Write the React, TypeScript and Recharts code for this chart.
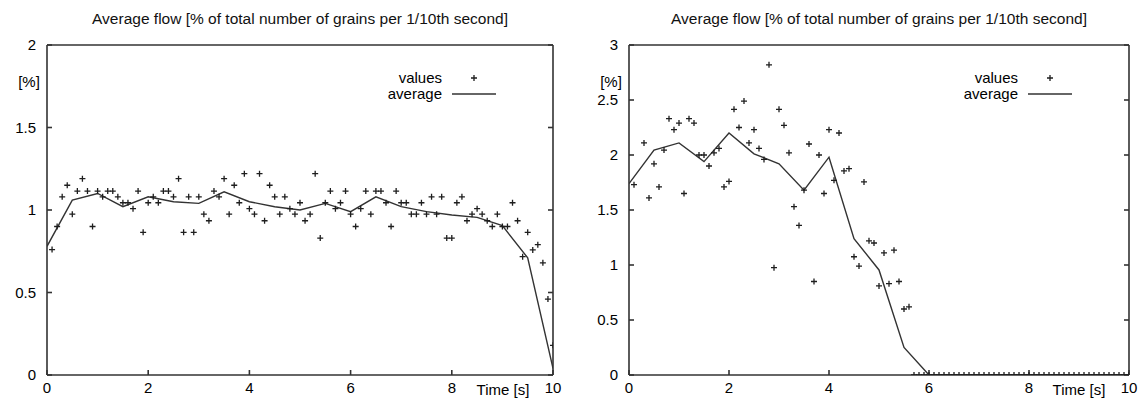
import React from 'react';
import { ComposedChart, Scatter, Line, XAxis, YAxis } from 'recharts';

// samples every 0.1 s, starting at t = 0.1
const leftValues = [
  0.76, 0.9, 1.08, 1.15, 0.975, 1.115, 1.19, 1.115, 0.9, 1.115,
  1.08, 1.115, 1.115, 1.08, 1.044, 1.044, 1.008, 1.115, 0.865, 1.044,
  1.08, 1.044, 1.115, 1.115, 1.08, 1.19, 0.865, 1.08, 0.865, 1.08,
  0.975, 0.935, 1.115, 1.08, 1.19, 0.975, 1.15, 1.044, 1.22, 1.008,
  0.975, 1.22, 0.935, 1.15, 1.08, 0.975, 1.08, 1.008, 0.975, 1.044,
  0.935, 0.975, 1.22, 0.83, 1.044, 1.115, 1.008, 1.044, 1.115, 0.975,
  0.9, 1.008, 1.115, 0.975, 1.115, 1.115, 1.044, 0.9, 1.115, 1.044,
  1.044, 0.975, 0.975, 1.044, 0.975, 1.08, 0.975, 1.08, 0.83, 0.83,
  1.044, 1.08, 0.935, 0.975, 1.008, 0.975, 0.935, 0.9, 0.975, 0.9,
  0.9, 1.044, 0.935, 0.717, 0.865, 0.758, 0.79, 0.68, 0.46, 0.18,
];

// averages every 0.5 s, starting at t = 0
const leftAverage = [
  0.78, 1.06, 1.1, 1.02, 1.08, 1.05, 1.04, 1.11, 1.05, 1.02, 1.0,
  1.04, 0.99, 1.08, 1.02, 0.99, 0.97, 0.955, 0.905, 0.71, 0.04,
];

const rightValues = [
  1.73, null, 2.11, 1.61, 1.92, 1.71, 2.045, 2.33, 2.23, 2.29,
  1.65, 2.33, 2.29, 2.0, 2.0, 1.9, 2.02, 2.06, 1.71, 1.76,
  2.415, 2.25, 2.49, 2.11, 2.23, 2.06, 1.96, 2.82, 0.976, 2.415,
  2.27, 2.02, 1.53, 1.36, 1.68, 2.1, 0.85, 2.0, 1.65, 2.23,
  1.77, 2.2, 1.855, 1.876, 1.075, 0.99, 1.755, 1.22, 1.2, 0.81,
  1.11, 0.83, 1.135, 0.85, 0.6, 0.62, 0, 0, 0, 0,
  0, 0, 0, 0, 0, 0, 0, 0, 0, 0,
  0, 0, 0, 0, 0, 0, 0, 0, 0, 0,
  0, 0, 0, 0, 0, 0, 0, 0, 0, 0,
  0, 0, 0, 0, 0, 0, 0, 0, 0, 0,
];

const rightAverage = [
  1.74, 2.045, 2.11, 1.94, 2.2, 2.01, 1.92, 1.68, 1.98, 1.24, 0.955,
  0.25, 0, 0, 0, 0, 0, 0, 0, 0, 0,
];

const xTicks = [0, 2, 4, 6, 8, 10];
const leftYTicks = [0, 0.5, 1, 1.5, 2];
const rightYTicks = [0, 0.5, 1, 1.5, 2, 2.5, 3];

const titleText = 'Average flow [% of total number of grains per 1/10th second]';
const unitText = '[%]';
const xLabelText = 'Time [s]';
const seriesNames = ['values', 'average'];

const FONT = '"Liberation Sans", Arial, Helvetica, sans-serif';
const INK = '#1e1e1e';

const toPoints = (vals: (number | null)[], start: number, step: number) =>
  vals
    .map((v, i) => ({ t: Math.round((start + i * step) * 100) / 100, v }))
    .filter((p) => p.v !== null);

const Plus = (props: any) => {
  const { cx, cy } = props;
  if (cx == null || cy == null) return null;
  return (
    <path
      d={`M${cx - 3},${cy}H${cx + 3}M${cx},${cy - 3}V${cy + 3}`}
      stroke={INK}
      strokeWidth={1.3}
      fill="none"
    />
  );
};

const NoTick = () => <g />;

const axisStyle = { stroke: '#333', strokeWidth: 1.6 };
const tickStyle = { fill: '#000', fontSize: 15, fontFamily: FONT };

const PLOT_TOP = 45;
const PLOT_BOTTOM = 375;
const H = 402;
const MIRROR = 5;

type PanelProps = {
  left: number;
  width: number;
  plotLeft: number;
  plotRight: number;
  values: (number | null)[];
  average: number[];
  yMax: number;
  yTicks: number[];
};

const Panel = ({ left, width, plotLeft, plotRight, values, average, yMax, yTicks }: PanelProps) => {
  const pts = toPoints(values, 0.1, 0.1);
  const avg = toPoints(average, 0, 0.5);
  const yAxisW = plotLeft - left;
  const mRight = left + width - plotRight - MIRROR;
  const center = (plotLeft + plotRight) / 2;
  return (
    <>
      <div style={{ position: 'absolute', left, top: 0 }}>
        <ComposedChart
          width={width}
          height={H}
          margin={{ top: PLOT_TOP - MIRROR, right: mRight, bottom: 0, left: 0 }}
        >
          <XAxis
            xAxisId="b"
            dataKey="t"
            type="number"
            domain={[0, 10]}
            ticks={xTicks}
            interval={0}
            height={H - PLOT_BOTTOM}
            tickSize={-5}
            tickMargin={12}
            axisLine={axisStyle}
            tickLine={axisStyle}
            tick={tickStyle}
            allowDataOverflow
          />
          <XAxis
            xAxisId="t"
            orientation="top"
            type="number"
            domain={[0, 10]}
            ticks={xTicks}
            interval={0}
            height={MIRROR}
            tickSize={-5}
            axisLine={axisStyle}
            tickLine={axisStyle}
            tick={NoTick}
            allowDataOverflow
          />
          <YAxis
            yAxisId="l"
            type="number"
            domain={[0, yMax]}
            ticks={yTicks}
            interval={0}
            width={yAxisW}
            tickSize={-5}
            tickMargin={16}
            axisLine={axisStyle}
            tickLine={axisStyle}
            tick={tickStyle}
            allowDataOverflow
          />
          <YAxis
            yAxisId="r"
            orientation="right"
            type="number"
            domain={[0, yMax]}
            ticks={yTicks}
            interval={0}
            width={MIRROR}
            tickSize={-5}
            axisLine={axisStyle}
            tickLine={axisStyle}
            tick={NoTick}
            allowDataOverflow
          />
          <Line
            xAxisId="b"
            yAxisId="l"
            data={avg}
            dataKey="v"
            type="linear"
            stroke="#333"
            strokeWidth={1.4}
            dot={false}
            isAnimationActive={false}
          />
          <Scatter
            xAxisId="b"
            yAxisId="l"
            data={pts}
            dataKey="v"
            shape={Plus}
            isAnimationActive={false}
          />
        </ComposedChart>
      </div>
      <div
        style={{
          position: 'absolute',
          left: center - 300,
          width: 600,
          top: 10,
          textAlign: 'center',
          fontSize: 15.5,
          lineHeight: '17px',
          color: '#111',
        }}
      >
        {titleText}
      </div>
      <div style={{ position: 'absolute', left: plotLeft - 36, width: 36, top: 73, textAlign: 'center', fontSize: 15, lineHeight: '18px' }}>
        {unitText}
      </div>
      <div style={{ position: 'absolute', left: plotRight - 100, width: 100, top: 382, textAlign: 'center', fontSize: 15, lineHeight: '16px' }}>
        {xLabelText}
      </div>
      {/* legend */}
      <div style={{ position: 'absolute', left: plotRight - 211, width: 100, top: 70, textAlign: 'right', fontSize: 15, lineHeight: '16px' }}>
        {seriesNames[0]}
      </div>
      <div style={{ position: 'absolute', left: plotRight - 211, width: 100, top: 86, textAlign: 'right', fontSize: 15, lineHeight: '16px' }}>
        {seriesNames[1]}
      </div>
      <svg style={{ position: 'absolute', left: plotRight - 102, top: 70 }} width={48} height={32}>
        <path d="M20,8H26M23,5V11" stroke={INK} strokeWidth={1.3} />
        <line x1={1} y1={24} x2={45} y2={24} stroke="#333" strokeWidth={1.4} />
      </svg>
    </>
  );
};

export default function App() {
  return (
    <div
      style={{
        position: 'absolute',
        left: 0,
        top: 0,
        width: 1143,
        height: 402,
        background: '#fff',
        fontFamily: FONT,
        color: '#000',
        overflow: 'hidden',
      }}
    >
      <Panel
        left={0}
        width={580}
        plotLeft={47}
        plotRight={553}
        values={leftValues}
        average={leftAverage}
        yMax={2}
        yTicks={leftYTicks}
      />
      <Panel
        left={582}
        width={561}
        plotLeft={629}
        plotRight={1129}
        values={rightValues}
        average={rightAverage}
        yMax={3}
        yTicks={rightYTicks}
      />
    </div>
  );
}
